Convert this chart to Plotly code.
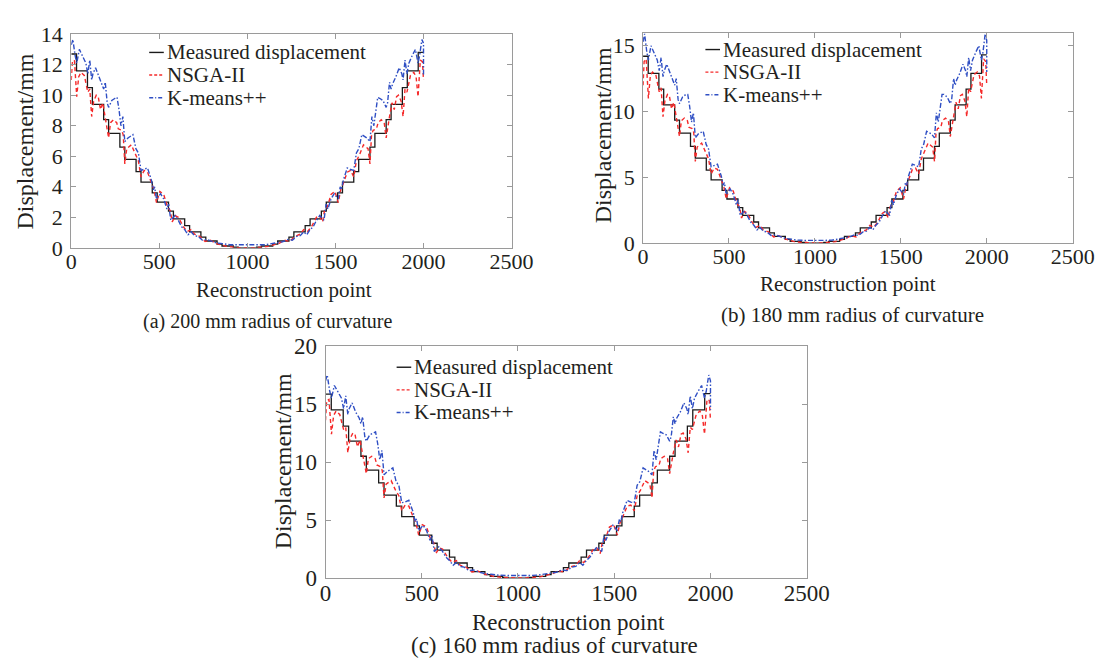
import plotly.graph_objects as go

# ---------------- data ----------------
TICK_X = [0, 500, 1000, 1500, 2000, 2500]
TICK_Y_A = [0, 2, 4, 6, 8, 10, 12, 14]
TICK_Y_B = [0, 5, 10, 15]
TICK_Y_C = [0, 5, 10, 15, 20]

# break points of the measured staircase (reconstruction point index)
STEP_EDGES = [0, 30, 92, 120, 184, 212, 276, 304, 368, 396, 460, 488, 552, 580, 644, 672,
              736, 764, 828, 856, 920, 948, 1052, 1080, 1144, 1172, 1236, 1264, 1328, 1356,
              1420, 1448, 1512, 1540, 1604, 1632, 1696, 1724, 1788, 1816, 1880, 1908, 1970, 2000]

MEAS_A = [12.7, 11.6, 10.5, 9.4, 8.4, 7.5, 6.6, 5.8, 5.0, 4.3, 3.6, 3.0, 2.4, 1.9, 1.45, 1.05,
          0.7, 0.45, 0.25, 0.12, 0.04, 0.0, 0.04, 0.12, 0.25, 0.45, 0.7, 1.05, 1.45, 1.9, 2.4,
          3.0, 3.6, 4.3, 5.0, 5.8, 6.6, 7.5, 8.4, 9.4, 10.5, 11.6, 12.8]
MEAS_B = [14.2, 12.9, 11.7, 10.5, 9.35, 8.35, 7.35, 6.45, 5.55, 4.8, 4.0, 3.35, 2.7, 2.1, 1.6,
          1.15, 0.78, 0.5, 0.28, 0.13, 0.05, 0.0, 0.05, 0.13, 0.28, 0.5, 0.78, 1.15, 1.6, 2.1,
          2.7, 3.35, 4.0, 4.8, 5.55, 6.45, 7.35, 8.35, 9.35, 10.5, 11.7, 12.9, 14.3]
MEAS_C = [15.85, 14.5, 13.1, 11.8, 10.5, 9.3, 8.2, 7.15, 6.2, 5.3, 4.5, 3.7, 3.0, 2.4, 1.8, 1.3,
          0.9, 0.55, 0.3, 0.14, 0.05, 0.0, 0.05, 0.14, 0.3, 0.55, 0.9, 1.3, 1.8, 2.4, 3.0, 3.7,
          4.5, 5.3, 6.2, 7.15, 8.2, 9.3, 10.5, 11.8, 13.1, 14.5, 15.9]

# K-means++ reconstruction (vertices of the curve)
KM_X = [0, 9, 22, 31, 46, 64, 83, 94, 105, 116, 123, 138, 157, 175, 184, 193, 204, 212, 230, 249,
        260, 271, 282, 293, 304, 322, 350, 367, 381, 396, 414, 433, 455, 466, 473, 484, 507, 525,
        543, 553, 565, 589, 608, 626, 645, 663, 680, 700, 720, 745, 770, 800, 830, 860, 900, 950,
        1000,
        1050, 1100, 1140, 1170, 1200, 1230, 1255, 1280, 1300, 1320, 1337, 1355, 1374, 1392, 1411,
        1435, 1447, 1457, 1475, 1493, 1516, 1527, 1534, 1545, 1567, 1586, 1604, 1619, 1633, 1650,
        1678, 1696, 1707, 1718, 1729, 1740, 1751, 1770, 1788, 1796, 1807, 1816, 1825, 1843, 1862,
        1877, 1884, 1895, 1906, 1917, 1936, 1954, 1969, 1978, 1991, 2000, 2000]
KM_A = [13.3, 13.65, 12.6, 12.1, 13.0, 12.6, 12.1, 11.4, 12.3, 11.0,
        11.4, 11.8, 11.2, 10.75, 10.4, 10.85, 9.5, 9.2, 9.65, 9.8,
        9.86, 9.06, 8.0, 8.6, 6.96, 7.2, 7.42, 6.5, 6.22, 5.07,
        5.13, 5.24, 4.44, 3.8, 4.0, 3.2, 3.55, 3.2, 2.54, 2.86,
        1.81, 2.12, 1.8, 1.39, 1.18, 0.86, 1.05, 0.8, 0.75, 0.5,
        0.55, 0.4, 0.3, 0.28, 0.2, 0.2,
        0.18,
        0.2, 0.2, 0.28, 0.3, 0.4, 0.55, 0.5, 0.75, 0.8, 1.05,
        0.86, 1.18, 1.39, 1.8, 2.12, 1.81, 2.86, 2.54, 3.2, 3.55,
        3.2, 4.0, 3.8, 4.44, 5.24, 5.13, 5.07, 6.22, 6.5, 7.42,
        7.2, 6.96, 8.6, 8.0, 9.06, 9.86, 9.8, 9.65, 9.2, 9.5,
        10.85, 10.4, 10.75, 11.2, 11.8, 11.4, 11.0, 12.3, 11.4, 12.1,
        12.6, 13.0, 12.1, 12.6, 13.65, 13.4, 11.3]
KM_B = [15.3, 15.9, 14.5, 13.9, 15.0, 14.5, 13.9, 13.1, 14.1, 12.65,
        13.1, 13.6, 12.9, 12.4, 12.0, 12.5, 10.9, 10.6, 11.1, 11.3,
        11.3, 10.4, 9.2, 9.9, 8.0, 8.3, 8.5, 7.5, 7.15, 5.8,
        5.9, 6.0, 5.1, 4.4, 4.6, 3.7, 4.1, 3.7, 2.9, 3.3,
        2.1, 2.45, 2.05, 1.6, 1.35, 1.0, 1.2, 0.9, 0.85, 0.58,
        0.62, 0.46, 0.35, 0.3, 0.22, 0.2,
        0.18,
        0.2, 0.22, 0.3, 0.35, 0.46, 0.62, 0.58, 0.85, 0.9, 1.2,
        1.0, 1.35, 1.6, 2.05, 2.45, 2.1, 3.3, 2.9, 3.7, 4.1,
        3.7, 4.6, 4.4, 5.1, 6.0, 5.9, 5.8, 7.15, 7.5, 8.5,
        8.3, 8.0, 9.9, 9.2, 10.4, 11.3, 11.3, 11.1, 10.6, 10.9,
        12.5, 12.0, 12.4, 12.9, 13.6, 13.1, 12.65, 14.1, 13.1, 13.9,
        14.5, 15.0, 13.9, 14.5, 15.9, 15.4, 13.0]
KM_C = [17.0, 17.5, 16.1, 15.5, 16.6, 16.1, 15.5, 14.6, 15.7, 14.1,
        14.6, 15.1, 14.3, 13.8, 13.3, 13.9, 12.2, 11.8, 12.35, 12.5,
        12.6, 11.6, 10.2, 11.0, 8.9, 9.2, 9.5, 8.3, 8.0, 6.5,
        6.55, 6.7, 5.7, 4.85, 5.1, 4.1, 4.55, 4.1, 3.25, 3.65,
        2.3, 2.7, 2.3, 1.8, 1.5, 1.1, 1.35, 1.0, 0.95, 0.64,
        0.7, 0.5, 0.38, 0.33, 0.25, 0.22,
        0.2,
        0.22, 0.25, 0.33, 0.38, 0.5, 0.7, 0.64, 0.95, 1.0, 1.35,
        1.1, 1.5, 1.8, 2.3, 2.7, 2.3, 3.65, 3.25, 4.1, 4.55,
        4.1, 5.1, 4.85, 5.7, 6.7, 6.55, 6.5, 8.0, 8.3, 9.5,
        9.2, 8.9, 11.0, 10.2, 11.6, 12.6, 12.5, 12.35, 11.8, 12.2,
        13.9, 13.3, 13.8, 14.3, 15.1, 14.6, 14.1, 15.7, 14.6, 15.5,
        16.1, 16.6, 15.5, 16.1, 17.5, 17.0, 14.5]

# NSGA-II reconstruction (vertices of the curve)
NS_X = [0, 6, 18, 31, 42, 55, 74, 87, 94, 105, 116, 127, 142, 153, 166, 179, 193, 212, 223, 240,
        258, 267, 286, 295, 304, 315, 341, 363, 381, 396, 414, 433, 455, 470, 484, 503, 525, 547,
        562, 573, 591, 608, 636, 658, 680, 700, 730, 760, 790, 820, 850, 880, 920, 960,
        1000,
        1040, 1080, 1120, 1150, 1180, 1210, 1240, 1270, 1300, 1320, 1342, 1364, 1392, 1409, 1427,
        1438, 1453, 1475, 1497, 1516, 1530, 1545, 1567, 1586, 1604, 1619, 1637, 1659, 1685, 1696,
        1705, 1714, 1733, 1742, 1760, 1777, 1788, 1807, 1821, 1834, 1847, 1858, 1873, 1884, 1895,
        1906, 1913, 1926, 1945, 1958, 1969, 1982, 1994, 2000]
NS_A = [11.0, 12.2, 12.3, 9.9, 11.2, 11.5, 11.3, 10.6, 10.2, 10.4,
        8.6, 9.6, 10.0, 9.9, 9.06, 9.5, 8.6, 7.2, 8.2, 8.4,
        8.2, 7.8, 7.7, 7.4, 5.5, 6.5, 6.75, 6.1, 5.7, 4.65,
        5.07, 4.96, 4.23, 3.8, 2.96, 3.7, 3.5, 2.65, 2.44, 1.7,
        2.1, 2.0, 1.39, 1.07, 1.2, 0.9, 0.75, 0.42, 0.5, 0.3,
        0.2, 0.1, 0.05, 0.0,
        0.0,
        0.0, 0.05, 0.1, 0.2, 0.3, 0.5, 0.42, 0.75, 0.9, 1.2,
        1.07, 1.39, 2.0, 2.1, 1.7, 2.44, 2.65, 3.5, 3.7, 2.96,
        3.8, 4.23, 4.96, 5.07, 4.65, 5.7, 6.1, 6.75, 6.5, 5.5,
        7.4, 7.7, 7.8, 8.2, 8.4, 8.2, 7.2, 8.6, 9.5, 9.06,
        9.9, 10.0, 9.6, 8.6, 10.4, 10.2, 10.6, 11.3, 11.5, 11.2,
        9.9, 12.3, 12.2, 11.0]
NS_B = [12.0, 13.8, 14.0, 11.0, 12.7, 13.0, 12.8, 12.0, 11.5, 11.8,
        9.6, 10.8, 11.3, 11.2, 10.2, 10.7, 9.7, 8.1, 9.3, 9.5,
        9.3, 8.8, 8.7, 8.4, 6.2, 7.3, 7.6, 6.9, 6.4, 5.25,
        5.7, 5.6, 4.8, 4.3, 3.35, 4.2, 3.95, 3.0, 2.75, 1.9,
        2.4, 2.25, 1.55, 1.2, 1.35, 1.0, 0.85, 0.47, 0.56, 0.34,
        0.22, 0.11, 0.05, 0.0,
        0.0,
        0.0, 0.05, 0.11, 0.22, 0.34, 0.56, 0.47, 0.85, 1.0, 1.35,
        1.2, 1.55, 2.25, 2.4, 1.9, 2.75, 3.0, 3.95, 4.2, 3.35,
        4.3, 4.8, 5.6, 5.7, 5.25, 6.4, 6.9, 7.6, 7.3, 6.2,
        8.4, 8.7, 8.8, 9.3, 9.5, 9.3, 8.1, 9.7, 10.7, 10.2,
        11.2, 11.3, 10.8, 9.6, 11.8, 11.5, 12.0, 12.8, 13.0, 12.7,
        11.0, 14.0, 13.8, 12.0]
NS_C = [13.6, 15.3, 15.4, 12.4, 14.0, 14.4, 14.1, 13.3, 12.8, 13.0,
        10.8, 12.0, 12.5, 12.4, 11.3, 11.9, 10.8, 9.0, 10.3, 10.5,
        10.3, 9.75, 9.6, 9.25, 6.9, 8.1, 8.4, 7.6, 7.1, 5.8,
        6.3, 6.2, 5.3, 4.75, 3.7, 4.6, 4.4, 3.3, 3.05, 2.1,
        2.6, 2.5, 1.75, 1.35, 1.5, 1.1, 0.95, 0.52, 0.62, 0.38,
        0.25, 0.12, 0.06, 0.0,
        0.0,
        0.0, 0.06, 0.12, 0.25, 0.38, 0.62, 0.52, 0.95, 1.1, 1.5,
        1.35, 1.75, 2.5, 2.6, 2.1, 3.05, 3.3, 4.4, 4.6, 3.7,
        4.75, 5.3, 6.2, 6.3, 5.8, 7.1, 7.6, 8.4, 8.1, 6.9,
        9.25, 9.6, 9.75, 10.3, 10.5, 10.3, 9.0, 10.8, 11.9, 11.3,
        12.4, 12.5, 12.0, 10.8, 13.0, 12.8, 13.3, 14.1, 14.4, 14.0,
        12.4, 15.4, 15.3, 13.6]

SERIES_NAMES = ["Measured displacement", "NSGA-II", "K-means++"]
CAPTIONS = ["(a) 200 mm radius of curvature", "(b) 180 mm radius of curvature",
            "(c) 160 mm radius of curvature"]
X_TITLE = "Reconstruction point"
Y_TITLE = "Displacement/mm"

# ---------------- styling / layout ----------------
W, H = 1120, 670
FONT = "Liberation Serif, Times New Roman, serif"
TXT = "#231f20"
AXC = "#9a9a9a"
C_MEAS = "#1a1a1a"
C_NS = "#f52a2a"
C_KM = "#2f4fc4"
DASH_NS = "4px,3px"
DASH_KM = "5px,2px,1.5px,2px"


def fx(p):
    return p / W


def fy(p):
    return 1 - p / H


panels = [
    dict(ax="", xdom=(67, 519), ydom=(245, 23), yr=[0, 14], yt=TICK_Y_A,
         meas=MEAS_A, km=KM_A, ns=NS_A, fs=22, xfs=21, cfs=20,
         xt=(285, 289), yti=(19, 135), cap=(268, 321), leg=(147, 42)),
    dict(ax="2", xdom=(654, 1095), ydom=(240, 21.4), yr=[0, 16], yt=TICK_Y_B,
         meas=MEAS_B, km=KM_B, ns=NS_B, fs=22, xfs=21, cfs=21,
         xt=(864, 283), yti=(613, 128), cap=(869, 315), leg=(718, 39)),
    dict(ax="3", xdom=(328, 822), ydom=(588, 347), yr=[0, 20], yt=TICK_Y_C,
         meas=MEAS_C, km=KM_C, ns=NS_C, fs=23, xfs=23, cfs=23,
         xt=(577, 634), yti=(284, 467), cap=(563, 658), leg=(401, 369)),
]

fig = go.Figure()
annotations = []
shapes = []

for i, p in enumerate(panels):
    xa = "x" + p["ax"]
    ya = "y" + p["ax"]
    steps_y = p["meas"] + [p["meas"][-1]]
    fig.add_trace(go.Scatter(x=STEP_EDGES, y=steps_y, mode="lines", line_shape="hv",
                             line=dict(color=C_MEAS, width=1.3), name=SERIES_NAMES[0],
                             xaxis=xa, yaxis=ya, showlegend=False))
    fig.add_trace(go.Scatter(x=NS_X, y=p["ns"], mode="lines",
                             line=dict(color=C_NS, width=1.4, dash=DASH_NS), name=SERIES_NAMES[1],
                             xaxis=xa, yaxis=ya, showlegend=False))
    fig.add_trace(go.Scatter(x=KM_X, y=p["km"], mode="lines",
                             line=dict(color=C_KM, width=1.4, dash=DASH_KM), name=SERIES_NAMES[2],
                             xaxis=xa, yaxis=ya, showlegend=False))

    axis_common = dict(showline=True, linecolor=AXC, linewidth=1, mirror="ticks",
                       ticks="inside", ticklen=5, tickcolor=AXC, tickwidth=1,
                       showgrid=False, zeroline=False,
                       tickfont=dict(family=FONT, size=p["fs"], color=TXT))
    fig.update_layout(**{
        "xaxis" + p["ax"]: dict(domain=[fx(p["xdom"][0]), fx(p["xdom"][1])], range=[0, 2500],
                                tickvals=TICK_X, anchor=ya, ticklabelstandoff=-6,
                                **axis_common),
        "yaxis" + p["ax"]: dict(domain=[fy(p["ydom"][0]), fy(p["ydom"][1])], range=p["yr"],
                                tickvals=p["yt"], anchor=xa, ticklabelstandoff=3,
                                **axis_common),
    })

    annotations.append(dict(text=X_TITLE, x=fx(p["xt"][0]), y=fy(p["xt"][1]), xref="paper",
                            yref="paper", showarrow=False, xanchor="center", yanchor="middle",
                            font=dict(family=FONT, size=p["xfs"], color=TXT)))
    annotations.append(dict(text=Y_TITLE, x=fx(p["yti"][0]), y=fy(p["yti"][1]), xref="paper",
                            yref="paper", showarrow=False, xanchor="center", yanchor="middle",
                            textangle=-90, font=dict(family=FONT, size=24, color=TXT)))
    annotations.append(dict(text=CAPTIONS[i], x=fx(p["cap"][0]), y=fy(p["cap"][1]),
                            xref="paper", yref="paper", showarrow=False, xanchor="center",
                            yanchor="middle", font=dict(family=FONT, size=p["cfs"], color=TXT)))

    # legend (three entries, stacked)
    lx, ly = p["leg"]
    gap = 23.5
    styles = [(C_MEAS, "solid"), (C_NS, "3px,2px"), (C_KM, "4px,2px,1px,2px")]
    for k in range(3):
        yk = ly + k * gap
        shapes.append(dict(type="line", xref="paper", yref="paper",
                           x0=fx(lx), x1=fx(lx + 15), y0=fy(yk), y1=fy(yk),
                           line=dict(color=styles[k][0], width=1.4, dash=styles[k][1])))
        annotations.append(dict(text=SERIES_NAMES[k], x=fx(lx + 17), y=fy(yk), xref="paper",
                                yref="paper", showarrow=False, xanchor="left",
                                yanchor="middle", borderpad=0,
                                font=dict(family=FONT, size=21, color=TXT)))

fig.update_layout(width=W, height=H, margin=dict(l=0, r=0, t=0, b=0),
                  paper_bgcolor="white", plot_bgcolor="white", showlegend=False,
                  annotations=annotations, shapes=shapes)

fig.write_html("out.html")
